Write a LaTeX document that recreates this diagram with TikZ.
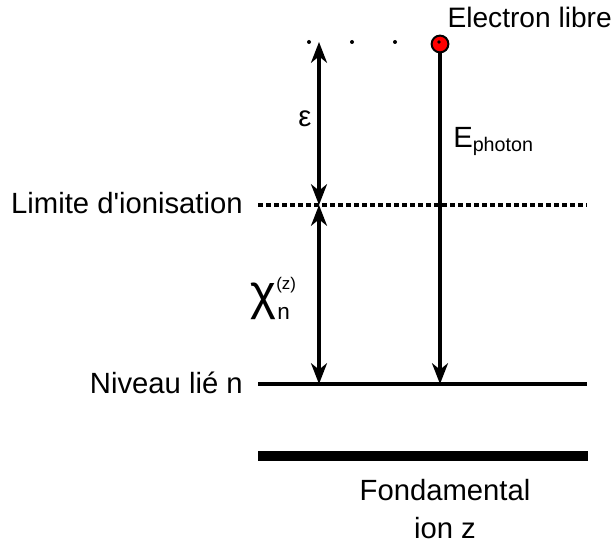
\documentclass[tikz,border=0pt]{standalone}
\usepackage{fontspec}
\setmainfont{Liberation Sans}
\usetikzlibrary{arrows.meta, positioning, calc}
\definecolor{electron}{HTML}{FF0000}

\begin{document}
\begin{tikzpicture}[
  x=0.025cm, y=-0.025cm,
  label/.style={inner sep=0pt, font=\fontsize{20.8}{27}\selectfont},
  level/.style={line width=2.2pt},
  arr/.style={line width=2.2pt, >={Stealth[length=0.52cm, width=0.4cm, inset=0.16cm]}},
]
  \useasboundingbox (0,0) rectangle (615,544);

  % energy levels
  \coordinate (ionL) at (258,205);
  \coordinate (ionR) at (587,205);
  \coordinate (lvL) at (258,384);
  \coordinate (lvR) at (587,384);
  \coordinate (fondL) at (258,456);
  \coordinate (fondR) at (588,456);
  \draw[level, dash pattern=on 0.125cm off 0.075cm] (ionL) -- (ionR);
  \draw[level] (lvL) -- (lvR);
  \draw[line width=0.25cm] (fondL) -- (fondR);

  \node[label, anchor=base east] (ion) at (243,213) {Limite d\textquotesingle ionisation};
  \node[label, anchor=base east] (niveau) at (243,393) {Niveau lié n};
  \node[label, anchor=base, align=center] (fond) at (445,538) {Fondamental\\ion z};

  % continuum and free electron
  \foreach \px in {309,352,395}
    \fill (\px,42) circle (2);
  \node[circle, draw, line width=1.4pt, fill=electron, minimum size=0.42cm, inner sep=0pt] (elec) at (440,44) {};
  \fill (439,42) circle (1.8);
  \node[label, font=\fontsize{20}{24}\selectfont, anchor=base east] (libre) at (612,28) {Electron libre};

  % transitions
  \coordinate (top) at (319,42);
  \coordinate (ionA) at (319,205);
  \coordinate (lvA) at (319,384);
  \coordinate (lvB) at (440,384);
  \draw[arr, <->] (top) -- (ionA);
  \draw[arr, <->] (ionA) -- (lvA);
  \draw[arr, ->] (elec) -- (lvB);

  \node[label] (eps) at (305,119) {ε};
  \node[label, anchor=base west] (ephoton) at (453,148) {E\raisebox{-2.8pt}{\fontsize{14}{14}\selectfont photon}};
  \node[inner sep=0pt, anchor=base west, font=\fontsize{35}{36}\selectfont] (chi) at (250,309) {χ};
  \node[inner sep=0pt, anchor=base west, font=\fontsize{12}{12}\selectfont] (chiz) at (276,289) {(z)};
  \node[inner sep=0pt, anchor=base west, font=\fontsize{16}{16}\selectfont] (chin) at (277,319) {n};
\end{tikzpicture}
\end{document}
